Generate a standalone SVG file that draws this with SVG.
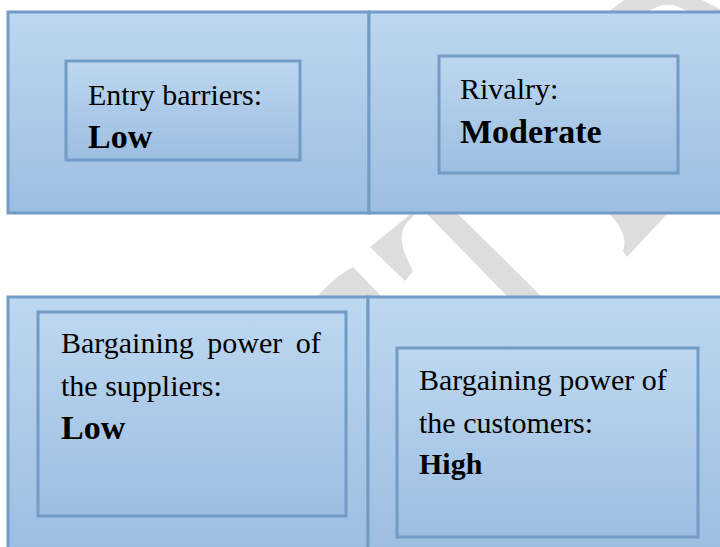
<svg xmlns="http://www.w3.org/2000/svg" width="720" height="547" viewBox="0 0 720 547">
  <defs>
    <linearGradient id="cellFill" x1="0" y1="0" x2="0" y2="1">
      <stop offset="0" stop-color="#bdd7f0"/>
      <stop offset="1" stop-color="#9cbee1"/>
    </linearGradient>
    <style>
      .cell { fill: url(#cellFill); stroke: #729bc6; stroke-width: 3; }
      .box  { fill: url(#cellFill); stroke: #729bc6; stroke-width: 3; }
      .wm   { fill: #dddddd; stroke: none; }
      .txt  { font-family: "Liberation Serif", "Times New Roman", serif; font-size: 30px; fill: #000000; }
      .big  { font-weight: bold; font-size: 34px; }
      .bold { font-weight: bold; }
    </style>
  </defs>

  <rect width="720" height="547" fill="#ffffff"/>

  <!-- faint background watermark strokes, mostly hidden behind the panels -->
  <g id="watermark">
    <path class="wm" d="M608,12 L624,0 L702,0 L720,9 L720,12 Z"/>
    <path d="M648,12 C656,6 664,4 674,5 L690,12 Z" fill="#ffffff"/>
    <path class="wm" d="M318,296 C328,284 340,274 353,267 L381,296 Z"/>
    <path class="wm" d="M412,213 L370,247 L405,281 L413,271 C403,252 397,236 406,224 L416,213 Z"/>
    <path class="wm" d="M426,213 L457,213 L541,296 L507,296 Z"/>
    <path class="wm" d="M609,213 L668,213 L627,257 L623,251 C626,242 626,232 609,213 Z"/>
  </g>

  <!-- top row -->
  <g id="row-top">
    <rect class="cell" x="8" y="12" width="361" height="201"/>
    <rect class="cell" x="369" y="12" width="356" height="201"/>
  </g>
  <g id="entry-barriers">
    <rect class="box" x="66" y="61" width="234" height="99"/>
    <text class="txt" x="88" y="105">Entry barriers:</text>
    <text class="txt big" x="88" y="148">Low</text>
  </g>
  <g id="rivalry">
    <rect class="box" x="439" y="56" width="239" height="117"/>
    <text class="txt" x="460" y="99">Rivalry:</text>
    <text class="txt big" x="460" y="143">Moderate</text>
  </g>

  <!-- bottom row -->
  <g id="row-bottom">
    <rect class="cell" x="8" y="297" width="360" height="256"/>
    <rect class="cell" x="368" y="297" width="357" height="256"/>
  </g>
  <g id="supplier-power">
    <rect class="box" x="38" y="312" width="308" height="204"/>
    <text class="txt" x="61" y="353" word-spacing="6">Bargaining power of</text>
    <text class="txt" x="61" y="396">the suppliers:</text>
    <text class="txt big" x="61" y="439">Low</text>
  </g>
  <g id="customer-power">
    <rect class="box" x="397" y="348" width="301" height="189"/>
    <text class="txt" x="419" y="390">Bargaining power of</text>
    <text class="txt" x="419" y="433">the customers:</text>
    <text class="txt bold" x="419" y="474">High</text>
  </g>
</svg>
